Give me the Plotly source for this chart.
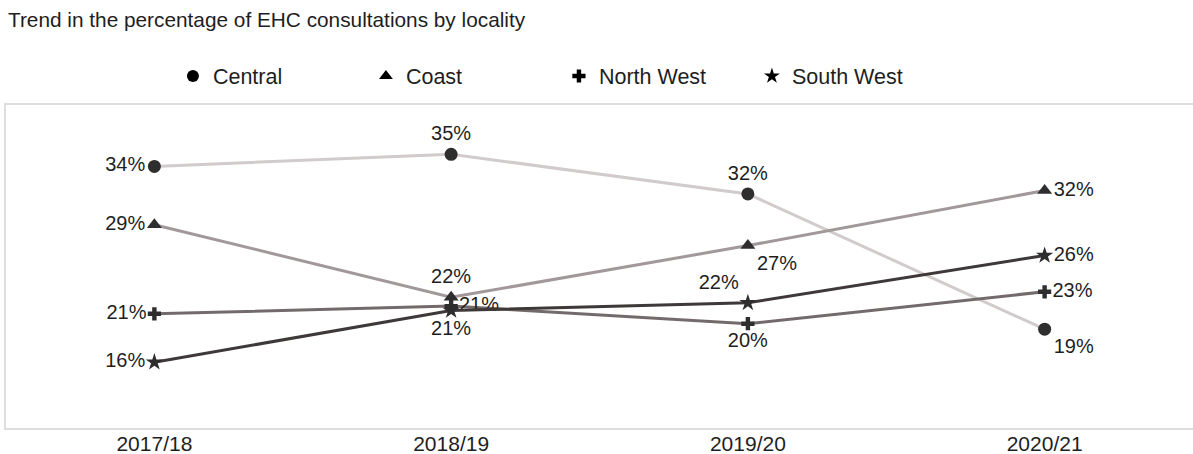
import plotly.graph_objects as go

years = ["2017/18", "2018/19", "2019/20", "2020/21"]
central = [34.1, 35.2, 31.6, 19.3]
coast = [28.8, 22.2, 26.9, 31.9]
north_west = [20.7, 21.4, 19.8, 22.7]
south_west = [16.3, 21.0, 21.7, 26.0]

series = [
    ("Central", central, "circle", 13, "#d2cbcb",
     ["middle left", "top center", "top center", "bottom right"]),
    ("Coast", coast, "triangle-up", 13, "#a19999",
     ["middle left", "top center", "bottom right", "middle right"]),
    ("North West", north_west, "cross", 11, "#736b6b",
     ["middle left", "middle right", "bottom center", "middle right"]),
    ("South West", south_west, "star", 13, "#3f3838",
     ["middle left", "bottom center", "top left", "middle right"]),
]

MARK = "#2e2e2e"
FONT = "Liberation Sans, Arial, sans-serif"

fig = go.Figure()
for name, vals, sym, size, lcol, pos in series:
    fig.add_trace(go.Scatter(
        x=years, y=vals, mode="lines+markers+text", name=name,
        line=dict(color=lcol, width=3),
        marker=dict(symbol=sym, size=size, color=MARK, line=dict(width=0)),
        text=[f"{round(v)}%" for v in vals], textposition=pos,
        textfont=dict(family=FONT, size=20, color="#1e1e1e"),
        showlegend=False, cliponaxis=False,
    ))
for name, vals, sym, size, lcol, pos in series:
    fig.add_trace(go.Scatter(
        x=[None], y=[None], mode="markers", name=name,
        marker=dict(symbol=sym, size=12 if sym != "cross" else 11, color="#000000"),
        showlegend=True,
    ))

fig.update_layout(
    width=1193, height=454,
    margin=dict(l=6, r=0, t=105, b=26),
    paper_bgcolor="white", plot_bgcolor="white",
    font=dict(family=FONT, color="#1e1e1e"),
    title=dict(text="Trend in the percentage of EHC consultations by locality",
               x=8 / 1193, xanchor="left", xref="container",
               y=1 - 20 / 454, yanchor="middle", yref="container",
               font=dict(family=FONT, size=20.8, color="#1e1e1e")),
    legend=dict(orientation="h", x=(173 - 6) / 1187.5, xanchor="left",
                y=(428 - 76) / 323, yanchor="middle",
                entrywidth=148, entrywidthmode="pixels",
                font=dict(family=FONT, size=21.5, color="#1e1e1e"),
                bgcolor="rgba(0,0,0,0)"),
    xaxis=dict(range=[-0.5, 3.5], showgrid=False, zeroline=False,
               showline=True, linecolor="#dedede", linewidth=2, mirror=True,
               ticks="", automargin=False, ticklabelstandoff=-4,
               tickfont=dict(family=FONT, size=21, color="#1e1e1e")),
    yaxis=dict(range=[10.32, 39.68], showgrid=False, zeroline=False,
               showticklabels=False, showline=True, linecolor="#dedede",
               linewidth=2, mirror=True, ticks="", automargin=False),
)

fig.write_html("out.html", config={"displayModeBar": False},
               post_script="document.body.style.margin='0';")
